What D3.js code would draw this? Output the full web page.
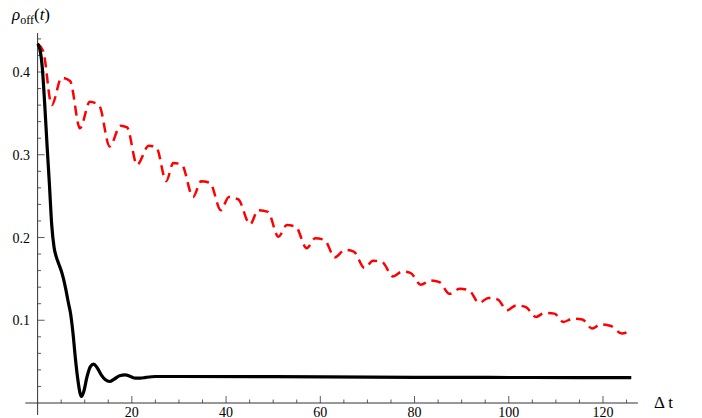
<!DOCTYPE html>
<html>
<head>
<meta charset="utf-8">
<script src="https://cdn.jsdelivr.net/npm/d3@7"></script>
<style>
  html, body { margin: 0; padding: 0; background: #fff; }
  svg { display: block; }
</style>
</head>
<body>
<svg id="chart"></svg>
<script>
// black solid curve: t, rho_off
const solidT = [0, 0.5, 1.0, 1.5, 2.0, 2.5, 3.0, 3.5, 4.0, 4.5, 5.0, 5.5, 6.0, 6.5, 7.0, 7.5, 8.0, 8.5, 9.0, 9.3,
  9.8, 10.5, 11.2, 11.9, 12.6, 13.5, 14.4, 15.3, 16.3, 17.4, 18.6, 19.7, 20.8, 21.8, 23, 25, 30, 50, 80, 105, 126];
const solidV = [0.434, 0.427, 0.405, 0.362, 0.312, 0.265, 0.215, 0.188, 0.176, 0.168, 0.160, 0.150, 0.137, 0.122, 0.108, 0.085, 0.055, 0.030, 0.012, 0.008,
  0.014, 0.032, 0.044, 0.047, 0.043, 0.034, 0.028, 0.026, 0.029, 0.033, 0.034, 0.032, 0.030, 0.030, 0.031, 0.032, 0.032, 0.0318, 0.031, 0.0308, 0.0306];

// red dashed curve: troughs, peaks and shoulders
const dashedT = [0, 1.2, 3.0, 5.1, 6.9, 9.0, 11.1, 13.1, 15.3, 17.6, 19.0, 21.1, 23.6, 25.2, 27.3, 28.8, 30.6, 33.0,
  34.7, 36.6, 38.9, 40.6, 42.6, 45.1, 46.8, 48.9, 51.1, 52.9, 54.8, 57.1, 58.9, 60.9, 63.1, 65.2, 67.1, 69.4,
  71.2, 73.2, 75.4, 77.4, 79.2, 81.3, 83.4, 85.3, 87.4, 89.6, 91.6, 93.7, 95.7, 97.7, 99.6, 101.6, 103.6, 105.8,
  107.6, 109.7, 111.6, 113.6, 115.6, 117.7, 119.5, 121.7, 124.0, 125.8];
const dashedV = [0.434, 0.425, 0.360, 0.393, 0.389, 0.332, 0.364, 0.359, 0.310, 0.335, 0.333, 0.288, 0.311, 0.309, 0.268, 0.290, 0.288, 0.249,
  0.268, 0.266, 0.233, 0.249, 0.246, 0.216, 0.233, 0.231, 0.201, 0.215, 0.213, 0.187, 0.199, 0.197, 0.176, 0.185, 0.183, 0.163,
  0.172, 0.170, 0.153, 0.159, 0.157, 0.143, 0.148, 0.146, 0.132, 0.138, 0.136, 0.121, 0.127, 0.125, 0.112, 0.118, 0.116, 0.104,
  0.109, 0.108, 0.098, 0.102, 0.101, 0.090, 0.095, 0.093, 0.084, 0.088];

const xMajor = [20, 40, 60, 80, 100, 120];
const yMajor = [0.1, 0.2, 0.3, 0.4];

const width = 702;
const height = 418;
const serif = '"Liberation Serif", "Times New Roman", "DejaVu Serif", serif';

const svg = d3.select('#chart')
  .attr('width', width)
  .attr('height', height)
  .attr('font-family', serif);

const x = d3.scaleLinear().domain([0, 120]).range([37.6, 603]);
const y = d3.scaleLinear().domain([0, 0.4]).range([403, 72]);

const axisColor = '#333';

// axes lines (Mathematica style, crossing at origin)
svg.append('line')
  .attr('x1', x(-2.6)).attr('x2', x(127.4))
  .attr('y1', y(0)).attr('y2', y(0))
  .attr('stroke', axisColor).attr('stroke-width', 1);
svg.append('line')
  .attr('x1', x(0)).attr('x2', x(0))
  .attr('y1', y(-0.0145)).attr('y2', y(0.447))
  .attr('stroke', axisColor).attr('stroke-width', 1);

// x ticks
const xMinor = d3.range(5, 127, 5).filter(v => v % 20 !== 0);
svg.selectAll('.xminor').data(xMinor).join('line')
  .attr('x1', d => x(d)).attr('x2', d => x(d))
  .attr('y1', y(0)).attr('y2', y(0) - 3.5)
  .attr('stroke', axisColor).attr('stroke-width', 0.8);
svg.selectAll('.xmajor').data(xMajor).join('line')
  .attr('x1', d => x(d)).attr('x2', d => x(d))
  .attr('y1', y(0)).attr('y2', y(0) - 7)
  .attr('stroke', axisColor).attr('stroke-width', 0.8);
svg.selectAll('.xlab').data(xMajor).join('text')
  .attr('x', d => x(d)).attr('y', y(0) + 14)
  .attr('text-anchor', 'middle')
  .attr('font-size', 14)
  .attr('font-family', serif)
  .text(d => d);

// y ticks
const yMinor = d3.range(1, 23).map(i => i * 0.02).filter((v, i) => (i + 1) % 5 !== 0);
svg.selectAll('.yminor').data(yMinor).join('line')
  .attr('x1', x(0)).attr('x2', x(0) + 3.5)
  .attr('y1', d => y(d)).attr('y2', d => y(d))
  .attr('stroke', axisColor).attr('stroke-width', 0.8);
svg.selectAll('.ymajor').data(yMajor).join('line')
  .attr('x1', x(0)).attr('x2', x(0) + 7)
  .attr('y1', d => y(d)).attr('y2', d => y(d))
  .attr('stroke', axisColor).attr('stroke-width', 0.8);
svg.selectAll('.ylab').data(yMajor).join('text')
  .attr('x', 30).attr('y', d => y(d) + 5)
  .attr('text-anchor', 'end')
  .attr('font-size', 14)
  .attr('font-family', serif)
  .text(d => d3.format('.1f')(d));

// axis labels
const yl = svg.append('text').attr('x', 12).attr('y', 20).attr('font-size', 17).attr('font-family', serif);
yl.append('tspan').attr('font-style', 'italic').text('ρ');
yl.append('tspan').attr('font-size', 12).attr('dy', 4).text('off');
yl.append('tspan').attr('dy', -4).text('(');
yl.append('tspan').attr('font-style', 'italic').text('t');
yl.append('tspan').text(')');

svg.append('text')
  .attr('x', 654).attr('y', 408)
  .attr('font-size', 17)
  .attr('font-family', serif)
  .text('Δ t');

const line = d3.line()
  .x(d => x(d[0]))
  .y(d => y(d[1]))
  .curve(d3.curveMonotoneX);

svg.append('path')
  .datum(dashedT.map((t, i) => [t, dashedV[i]]))
  .attr('d', line)
  .attr('fill', 'none')
  .attr('stroke', '#ff0000')
  .attr('stroke-width', 2.5)
  .attr('stroke-dasharray', '10,6');

svg.append('path')
  .datum(solidT.map((t, i) => [t, solidV[i]]))
  .attr('d', line)
  .attr('fill', 'none')
  .attr('stroke', '#000')
  .attr('stroke-width', 3.2)
  .attr('stroke-linejoin', 'round');
</script>
</body>
</html>
